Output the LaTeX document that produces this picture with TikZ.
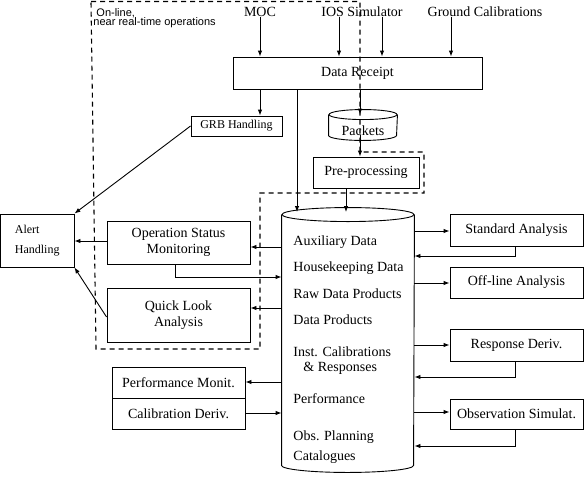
\documentclass[tikz,border=0pt]{standalone}
\usepackage{fontspec}
\setmainfont{Liberation Serif}
\newfontfamily\labsans{Liberation Sans}
\usetikzlibrary{arrows.meta}
\newcommand{\fbig}{\fontsize{14}{16.5}\selectfont}
\newcommand{\fmid}{\fontsize{12}{20}\selectfont}
\begin{document}
\begin{tikzpicture}[x=1pt,y=-1pt,line width=0.9pt,
  box/.style={draw,inner sep=0pt,font=\fbig,align=center},
  txt/.style={inner sep=0pt,font=\fbig},
  dbtxt/.style={inner sep=0pt,font=\fbig,anchor=west},
  arr/.style={-{Latex[length=6pt,width=4.5pt]}},
  region/.style={line width=1.1pt,dash pattern=on 5pt off 4pt}]
\useasboundingbox (0,0) rectangle (584,477);

% dashed region
\draw[region] (91,1.5) -- (360,1.5) -- (360,152) -- (424,152) -- (424,193) -- (260,193) -- (260,349) -- (96,349) -- cycle;
\node[inner sep=0pt,anchor=west,font=\labsans\fontsize{11}{12}\selectfont] (ol1) at (96,13) {On-line,};
\node[inner sep=0pt,anchor=west,font=\labsans\fontsize{11}{12}\selectfont] (ol2) at (93,23) {near real-time operations};

% sources
\node[txt] (moc) at (260,12) {MOC};
\node[txt] (ios) at (362,12) {IOS Simulator};
\node[txt] (gc) at (485,12) {Ground Calibrations};

% boxes
\node[box,minimum width=249pt,minimum height=32pt] (dr) at (357.5,73) {Data Receipt};
\node[box,minimum width=91pt,minimum height=20pt,font=\fontsize{12}{14}\selectfont] (grb) at (236.5,126) {GRB Handling};
\node[box,minimum width=106pt,minimum height=31pt] (pre) at (366,172.5) {Pre-processing};
\node[box,minimum width=73.5pt,minimum height=53pt,font=\fmid,align=left] (alert) at (37.25,240.5) {Alert\\Handling};
\node[box,minimum width=143pt,minimum height=43pt] (osm) at (178.5,242.5) {Operation Status\\Monitoring};
\node[box,minimum width=143pt,minimum height=54pt] (qla) at (178.5,315) {Quick Look\\Analysis};
\node[box,minimum width=133pt,minimum height=31pt] (pm) at (178.5,382.5) {Performance Monit.};
\node[box,minimum width=133pt,minimum height=31pt] (cd) at (178.5,413.5) {Calibration Deriv.};
\node[box,minimum width=133pt,minimum height=32pt] (sa) at (516.5,230) {Standard Analysis};
\node[box,minimum width=133pt,minimum height=31pt] (ola) at (516.5,282.5) {Off-line Analysis};
\node[box,minimum width=133pt,minimum height=32pt] (rd) at (516.5,345) {Response Deriv.};
\node[box,minimum width=133pt,minimum height=30pt] (os) at (516.5,414) {Observation Simulat.};

% packets cylinder
\node[inner sep=0pt,minimum width=68pt,minimum height=20pt] (pk) at (363,125) {};
\draw (pk.north west) -- (pk.south west) arc[start angle=180,end angle=360,x radius=34pt,y radius=5pt] -- (pk.north east);
\draw (pk.north) ellipse[x radius=34pt,y radius=5pt];
\node[txt] (pktxt) at (363,131) {Packets};

% database cylinder
\node[inner sep=0pt,minimum width=132pt,minimum height=250pt] (db) at (348,340) {};
\draw (db.north west) -- (db.south west) arc[start angle=180,end angle=360,x radius=66pt,y radius=7pt] -- (db.north east);
\draw (db.north) ellipse[x radius=66pt,y radius=7pt];
\node[dbtxt] (t1) at (293,242) {Auxiliary Data};
\node[dbtxt] (t2) at (293,268) {Housekeeping Data};
\node[dbtxt] (t3) at (293,294) {Raw Data Products};
\node[dbtxt] (t4) at (293,320) {Data Products};
\node[dbtxt] (t5) at (293,352) {Inst. Calibrations};
\node[dbtxt] (t6) at (303,368) {\& Responses};
\node[dbtxt] (t7) at (293,399) {Performance};
\node[dbtxt] (t8) at (293,437) {Obs. Planning};
\node[dbtxt] (t9) at (293,457) {Catalogues};

% inputs
\draw[arr] (moc.south) -- (moc.south |- dr.north);
\draw[arr] ([xshift=-23pt]ios.south) -- ([xshift=-23pt]ios.south |- dr.north);
\draw[arr] ([xshift=20pt]ios.south) -- ([xshift=20pt]ios.south |- dr.north);
\draw[arr] ([xshift=-34pt]gc.south) -- ([xshift=-34pt]gc.south |- dr.north);

% data receipt outputs
\draw[arr] (dr.south -| 260,0) -- (grb.north -| 260,0);
\draw[arr] (dr.south -| 297,0) -- (297,212);
\draw[arr] (dr.south -| 360,0) -- (pk.north -| 360,0);
\draw[arr] (pk.south -| 360,0) -- (pre.north -| 360,0);
\draw[arr] (pre.south -| 346,0) -- (346,212);

% alert handling
\draw[arr] (grb.west) -- (alert.north east);
\draw[arr] (osm.west |- 0,241) -- (alert.east |- 0,241);
\draw[arr] (qla.west |- 0,317) -- (alert.south east);

% left side of database
\draw[arr] (db.west |- 0,247) -- (osm.east |- 0,247);
\draw[arr] (osm.south -| 175,0) -- (175,277) -- (db.west |- 0,277);
\draw[arr] (db.west |- 0,308) -- (qla.east |- 0,308);
\draw[arr] (db.west |- 0,382) -- (pm.east |- 0,382);
\draw[arr] (cd.east |- 0,413) -- (db.west |- 0,413);

% right side of database
\draw[arr] (db.east |- 0,231) -- (sa.west |- 0,231);
\draw[arr] (sa.south -| 515,0) -- (515,256) -- (db.east |- 0,256);
\draw[arr] (db.east |- 0,283) -- (ola.west |- 0,283);
\draw[arr] (db.east |- 0,345) -- (rd.west |- 0,345);
\draw[arr] (rd.south -| 515,0) -- (515,377) -- (db.east |- 0,377);
\draw[arr] (db.east |- 0,412) -- (os.west |- 0,412);
\draw[arr] (os.south -| 515,0) -- (515,446) -- (db.east |- 0,446);
\end{tikzpicture}
\end{document}
